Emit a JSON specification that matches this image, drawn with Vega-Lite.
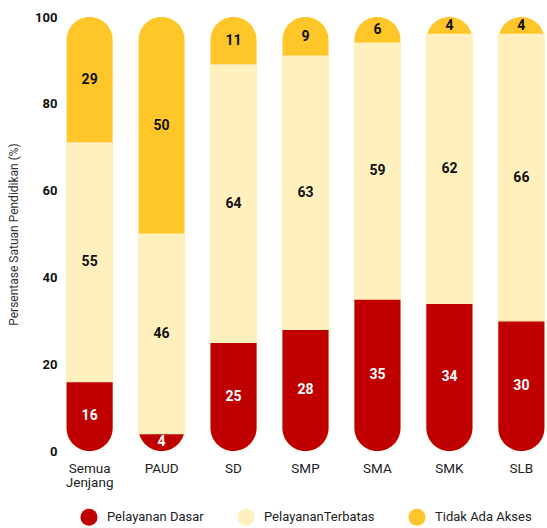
{
  "$schema": "https://vega.github.io/schema/vega-lite/v6.json",
  "width": 485,
  "height": 434,
  "autosize": {"type": "none"},
  "padding": {"left": 63, "top": 17, "right": 0, "bottom": 77},
  "background": "white",
  "config": {"view": {"stroke": null}, "font": "Roboto"},
  "data": {
    "values": [
      {"jenjang": "Semua Jenjang", "jenis": "Pelayanan Dasar", "nilai": 16},
      {"jenjang": "Semua Jenjang", "jenis": "PelayananTerbatas", "nilai": 55},
      {"jenjang": "Semua Jenjang", "jenis": "Tidak Ada Akses", "nilai": 29},
      {"jenjang": "PAUD", "jenis": "Pelayanan Dasar", "nilai": 4},
      {"jenjang": "PAUD", "jenis": "PelayananTerbatas", "nilai": 46},
      {"jenjang": "PAUD", "jenis": "Tidak Ada Akses", "nilai": 50},
      {"jenjang": "SD", "jenis": "Pelayanan Dasar", "nilai": 25},
      {"jenjang": "SD", "jenis": "PelayananTerbatas", "nilai": 64},
      {"jenjang": "SD", "jenis": "Tidak Ada Akses", "nilai": 11},
      {"jenjang": "SMP", "jenis": "Pelayanan Dasar", "nilai": 28},
      {"jenjang": "SMP", "jenis": "PelayananTerbatas", "nilai": 63},
      {"jenjang": "SMP", "jenis": "Tidak Ada Akses", "nilai": 9},
      {"jenjang": "SMA", "jenis": "Pelayanan Dasar", "nilai": 35},
      {"jenjang": "SMA", "jenis": "PelayananTerbatas", "nilai": 59},
      {"jenjang": "SMA", "jenis": "Tidak Ada Akses", "nilai": 6},
      {"jenjang": "SMK", "jenis": "Pelayanan Dasar", "nilai": 34},
      {"jenjang": "SMK", "jenis": "PelayananTerbatas", "nilai": 62},
      {"jenjang": "SMK", "jenis": "Tidak Ada Akses", "nilai": 4},
      {"jenjang": "SLB", "jenis": "Pelayanan Dasar", "nilai": 30},
      {"jenjang": "SLB", "jenis": "PelayananTerbatas", "nilai": 66},
      {"jenjang": "SLB", "jenis": "Tidak Ada Akses", "nilai": 4}
    ]
  },
  "encoding": {
    "x": {
      "field": "jenjang",
      "type": "nominal",
      "sort": ["Semua Jenjang", "PAUD", "SD", "SMP", "SMA", "SMK", "SLB"],
      "scale": {"paddingInner": 0.36, "paddingOuter": 0.05},
      "axis": {
        "title": null,
        "domain": false,
        "ticks": false,
        "labelAngle": 0,
        "labelFontSize": 13.5,
        "labelColor": "#222222",
        "labelPadding": 10,
        "labelLineHeight": 14.5,
        "labelExpr": "datum.label == 'Semua Jenjang' ? ['Semua', 'Jenjang'] : datum.label"
      }
    }
  },
  "layer": [
    {
      "transform": [
        {"stack": "nilai", "groupby": ["jenjang"], "sort": [{"field": "jenis", "order": "ascending"}], "as": ["y0", "y1"]},
        {"filter": "datum.jenis == 'Tidak Ada Akses'"}
      ],
      "mark": {"type": "bar", "cornerRadius": 23},
      "encoding": {
        "y": {
          "field": "y1",
          "type": "quantitative",
          "scale": {"domain": [0, 100]},
          "axis": {
            "title": "Persentase Satuan Pendidikan (%)",
            "titleFontSize": 12,
            "titleFontWeight": "normal",
            "titleColor": "#333333",
            "titlePadding": 14,
            "values": [0, 20, 40, 60, 80, 100],
            "domain": false,
            "ticks": false,
            "grid": false,
            "labelFontSize": 13,
            "labelFontWeight": "bold",
            "labelColor": "#111111",
            "labelPadding": 6
          }
        },
        "y2": {"datum": 0},
        "color": {
          "field": "jenis",
          "type": "nominal",
          "scale": {
            "domain": ["Pelayanan Dasar", "PelayananTerbatas", "Tidak Ada Akses"],
            "range": ["#C00000", "#FFF0BE", "#FFC629"]
          },
          "legend": {
            "title": null,
            "orient": "none",
            "direction": "horizontal",
            "legendX": 17,
            "legendY": 491,
            "symbolType": "circle",
            "symbolSize": 290,
            "symbolStrokeWidth": 0,
            "labelFontSize": 13,
            "labelColor": "#222222",
            "labelOffset": 9,
            "columnPadding": 33,
            "padding": 0
          }
        }
      }
    },
    {
      "transform": [
        {"stack": "nilai", "groupby": ["jenjang"], "sort": [{"field": "jenis", "order": "ascending"}], "as": ["y0", "y1"]},
        {"filter": "datum.jenis == 'PelayananTerbatas'"}
      ],
      "mark": {"type": "bar", "cornerRadiusBottomLeft": 23, "cornerRadiusBottomRight": 23, "color": "#C00000"},
      "encoding": {
        "y": {"field": "y1", "type": "quantitative"},
        "y2": {"datum": 0}
      }
    },
    {
      "transform": [
        {"stack": "nilai", "groupby": ["jenjang"], "sort": [{"field": "jenis", "order": "ascending"}], "as": ["y0", "y1"]},
        {"filter": "datum.jenis == 'PelayananTerbatas'"}
      ],
      "mark": {"type": "bar", "stroke": "#FFF0BE", "strokeWidth": 1.2},
      "encoding": {
        "y": {"field": "y0", "type": "quantitative"},
        "y2": {"field": "y1"},
        "color": {"field": "jenis", "type": "nominal"}
      }
    },
    {
      "mark": {"type": "text", "fontSize": 14, "fontWeight": "bold", "baseline": "middle"},
      "encoding": {
        "y": {"field": "nilai", "type": "quantitative", "stack": "zero", "bandPosition": 0.5},
        "detail": {"field": "jenis"},
        "order": {"field": "jenis", "sort": "ascending"},
        "text": {"field": "nilai", "type": "quantitative"},
        "color": {
          "condition": {"test": "datum.jenis == 'Pelayanan Dasar'", "value": "#FFFFFF"},
          "value": "#111111"
        }
      }
    }
  ]
}
